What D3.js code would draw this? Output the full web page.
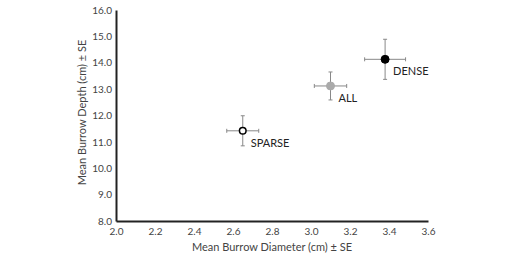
<!DOCTYPE html>
<html>
<head>
<meta charset="utf-8">
<script src="https://cdn.jsdelivr.net/npm/d3@7"></script>
<style>
body { margin: 0; background: #fff; }
text { font-family: Lato, "Open Sans", sans-serif; fill: #333; }
</style>
</head>
<body>
<svg id="chart" width="528" height="267"></svg>
<script>
// data
var groups = ["SPARSE", "ALL", "DENSE"];
var diameter = [2.65, 3.10, 3.38];
var diameterSE = [0.082, 0.083, 0.105];
var depth = [11.42, 13.12, 14.13];
var depthSE = [0.57, 0.53, 0.76];
var xTicks = [2.0, 2.2, 2.4, 2.6, 2.8, 3.0, 3.2, 3.4, 3.6];
var yTicks = [8, 9, 10, 11, 12, 13, 14, 15, 16];

var svg = d3.select("#chart");
var margin = { top: 10, left: 116, right: 100, bottom: 46 };

var xScale = d3.scaleLinear().domain([2.0, 3.6]).range([margin.left, 428]);
var yScale = d3.scaleLinear().domain([8, 16]).range([221, 10]);

// axes
var xAxis = svg.append("g")
    .attr("transform", "translate(0,221)")
    .call(d3.axisBottom(xScale).tickValues(xTicks).tickSize(0).tickPadding(7).tickFormat(d3.format(".1f")));
var yAxis = svg.append("g")
    .attr("transform", `translate(${margin.left},0)`)
    .call(d3.axisLeft(yScale).tickValues(yTicks).tickSize(0).tickPadding(4).tickFormat(d3.format(".1f")));

[xAxis, yAxis].forEach(function(a) {
    a.select(".domain").attr("stroke", "#222").attr("stroke-width", 2);
    a.selectAll("text").style("font-size", "10px").style("fill", "#444");
});

var data = groups.map(function(g, i) {
    return { name: g, x: diameter[i], xe: diameterSE[i], y: depth[i], ye: depthSE[i] };
});

var errColor = "#888";
var cap = 2;

var pts = svg.append("g").selectAll("g").data(data).enter().append("g");

// horizontal error bars
pts.append("line")
    .attr("x1", d => xScale(d.x - d.xe)).attr("x2", d => xScale(d.x + d.xe))
    .attr("y1", d => yScale(d.y)).attr("y2", d => yScale(d.y))
    .attr("stroke", errColor).attr("stroke-width", 1);
pts.append("line")
    .attr("x1", d => xScale(d.x - d.xe)).attr("x2", d => xScale(d.x - d.xe))
    .attr("y1", d => yScale(d.y) - cap).attr("y2", d => yScale(d.y) + cap)
    .attr("stroke", errColor).attr("stroke-width", 1);
pts.append("line")
    .attr("x1", d => xScale(d.x + d.xe)).attr("x2", d => xScale(d.x + d.xe))
    .attr("y1", d => yScale(d.y) - cap).attr("y2", d => yScale(d.y) + cap)
    .attr("stroke", errColor).attr("stroke-width", 1);

// vertical error bars
pts.append("line")
    .attr("x1", d => xScale(d.x)).attr("x2", d => xScale(d.x))
    .attr("y1", d => yScale(d.y - d.ye)).attr("y2", d => yScale(d.y + d.ye))
    .attr("stroke", errColor).attr("stroke-width", 1);
pts.append("line")
    .attr("x1", d => xScale(d.x) - cap).attr("x2", d => xScale(d.x) + cap)
    .attr("y1", d => yScale(d.y - d.ye)).attr("y2", d => yScale(d.y - d.ye))
    .attr("stroke", errColor).attr("stroke-width", 1);
pts.append("line")
    .attr("x1", d => xScale(d.x) - cap).attr("x2", d => xScale(d.x) + cap)
    .attr("y1", d => yScale(d.y + d.ye)).attr("y2", d => yScale(d.y + d.ye))
    .attr("stroke", errColor).attr("stroke-width", 1);

// markers
var fills = { SPARSE: "#fff", ALL: "#aaa", DENSE: "#000" };
var strokes = { SPARSE: "#000", ALL: "#aaa", DENSE: "#000" };
pts.append("circle")
    .attr("cx", d => xScale(d.x))
    .attr("cy", d => yScale(d.y))
    .attr("r", d => d.name === "SPARSE" ? 3.3 : 4)
    .attr("fill", d => fills[d.name])
    .attr("stroke", d => strokes[d.name])
    .attr("stroke-width", d => d.name === "SPARSE" ? 1.5 : 1);

// point labels
pts.append("text")
    .attr("x", d => xScale(d.x) + 8)
    .attr("y", d => yScale(d.y) + 16)
    .style("font-size", "11px")
    .style("fill", "#222")
    .text(d => d.name);

// axis labels
svg.append("text")
    .attr("x", (xScale(2.0) + xScale(3.6)) / 2)
    .attr("y", 251)
    .attr("text-anchor", "middle")
    .style("font-size", "11px")
    .style("fill", "#444")
    .text("Mean Burrow Diameter (cm) \u00b1 SE");

svg.append("text")
    .attr("transform", "rotate(-90)")
    .attr("x", -(yScale(8) + yScale(16)) / 2 + 3)
    .attr("y", 86)
    .attr("text-anchor", "middle")
    .style("font-size", "11px")
    .style("fill", "#444")
    .text("Mean Burrow Depth (cm) \u00b1 SE");
</script>
</body>
</html>
